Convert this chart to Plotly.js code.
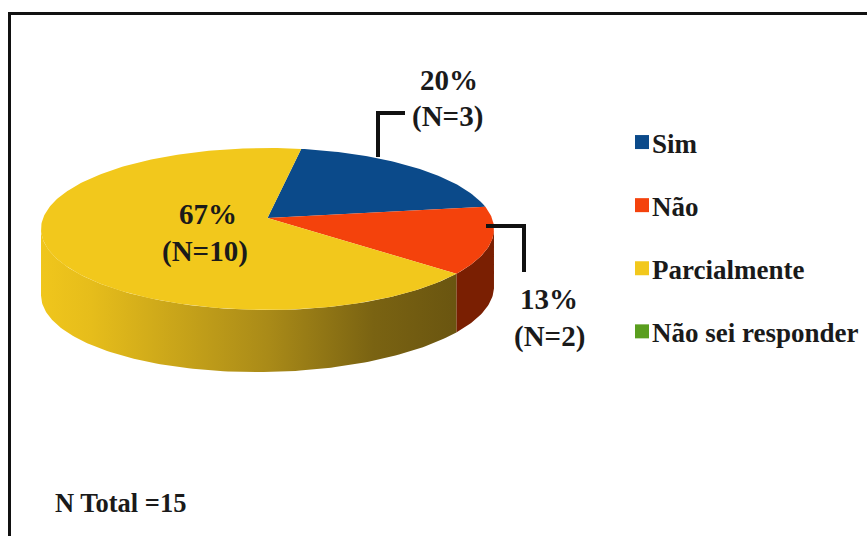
<!DOCTYPE html>
<html>
<head>
<meta charset="utf-8">
<script src="https://cdn.plot.ly/plotly-3.0.1.min.js"></script>
<style>html,body{margin:0;padding:0;background:#fff;overflow:hidden}</style>
</head>
<body>
<div id="chart" style="width:867px;height:536px"></div>
<script>
const categories = ["Sim", "Não", "Parcialmente", "Não sei responder"];
const counts = [3, 2, 10, 0];
const total = 15;
const sliceColors = ["#0b4a8a", "#f4420c", "#f2c81c", "#5a9e1e"];
const wallColors = [null, "#7a1f02", null, null];
const serif = "'Liberation Serif','Times New Roman',serif";
const ink = "#1a1a1a";

// Pie geometry on the page-sized axes
const cx = 267.5, cy = 229, rx = 226.5, ry = 81, tilt = 0.136, startDeg = 80.2;
const rad = d => d * Math.PI / 180;
// True angle on the disc -> point on the rim, seen in perspective
function rim(deg) {
  const c = Math.cos(rad(deg)), s = Math.sin(rad(deg)), d = 1 + tilt * s;
  return [Math.sqrt(1 - tilt * tilt) * c / d, (s + tilt) / d];
}
const toX = p => cx + rx * p[0];
const toY = p => cy - ry * p[1];
const depth = p => 62 - 4 * p[0];
const apex = [0, tilt];
function range(a, b) { const n = Math.ceil(Math.abs(a - b)) + 1, o = []; for (let i = 0; i < n; i++) o.push(a + (b - a) * i / (n - 1)); return o; }

// Slice boundaries
const bounds = [startDeg];
counts.forEach(v => bounds.push(bounds[bounds.length - 1] - 360 * v / total));

const traces = [];
// Visible side wall of a slice: the part of it in the lower half of the rim
function wall(a, b, style) {
  const lower = range(a, b).map(rim).filter(p => p[1] <= 0);
  if (lower.length < 2) return;
  const x = lower.map(toX).concat(lower.slice().reverse().map(toX));
  const y = lower.map(toY).concat(lower.slice().reverse().map(p => toY(p) + depth(p)));
  traces.push(Object.assign({ type: "scatter", mode: "lines", x, y, fill: "toself", line: { width: 0 }, showlegend: false, hoverinfo: "skip" }, style));
}
wall(bounds[1], bounds[2], { fillcolor: wallColors[1] });
wall(bounds[2], bounds[3], {
  fillcolor: "#c9a21b",
  fillgradient: { type: "horizontal", colorscale: [[0, "#f0c61c"], [0.12, "#e6bd1b"], [0.55, "#a98a18"], [0.8, "#7a6312"], [1, "#6a5510"]] }
});
// Top faces
categories.forEach((name, i) => {
  if (!counts[i]) return;
  const pts = range(bounds[i], bounds[i + 1]).map(rim);
  traces.push({
    type: "scatter", mode: "lines",
    x: [toX(apex)].concat(pts.map(toX), [toX(apex)]),
    y: [toY(apex)].concat(pts.map(toY), [toY(apex)]),
    fill: "toself", fillcolor: sliceColors[i], line: { width: 0 }, showlegend: false, hoverinfo: "skip"
  });
});
// Legend entries
categories.forEach((name, i) => {
  traces.push({
    type: "scatter", mode: "markers", name, x: [null], y: [null], legendgroup: name,
    marker: { symbol: "square", size: 14, color: sliceColors[i] }, hoverinfo: "skip"
  });
});

function label(text, x, y, size) {
  return { text: "<b>" + text + "</b>", x, y, xref: "x", yref: "y", showarrow: false, font: { family: serif, size, color: ink } };
}
const pct = i => Math.round(100 * counts[i] / total) + "%";
const nTxt = i => "(N=" + counts[i] + ")";
const annotations = [
  label(pct(0), 449, 80, 29), label(nTxt(0), 447, 116, 29),
  label(pct(1), 549, 299, 29), label(nTxt(1), 549, 336, 29),
  label(pct(2), 208, 214, 29), label(nTxt(2), 205, 251, 29),
  label("N Total =" + total, 120, 503, 26.5)
];
const frame = { type: "path", path: "M9.5,540 L9.5,13.5 L870,13.5", line: { color: "#111", width: 3 } };
const leader = p => ({ type: "path", path: p, line: { color: "#111", width: 4 } });

Plotly.newPlot("chart", traces, {
  width: 867, height: 536,
  margin: { l: 0, r: 0, t: 0, b: 0, pad: 0 },
  paper_bgcolor: "#fff", plot_bgcolor: "#fff",
  xaxis: { range: [0, 867], visible: false, fixedrange: true },
  yaxis: { range: [536, 0], visible: false, fixedrange: true },
  shapes: [frame, leader("M378,157 L378,113 L405,113"), leader("M486,226 L524,226 L524,272")],
  annotations,
  showlegend: true,
  legend: {
    x: 612 / 867, xanchor: "left", y: 1 - 118 / 536, yanchor: "top",
    bgcolor: "rgba(0,0,0,0)", borderwidth: 0,
    traceorder: "grouped", tracegroupgap: 25, itemclick: false, itemdoubleclick: false,
    font: { family: serif, size: 27, color: ink, weight: "bold" }
  }
}, { displayModeBar: false, staticPlot: true }).then(gd => {
  // Tuck the swatches next to their text, as in the reference
  gd.querySelectorAll(".legend .legendpoints .scatterpts").forEach(el => {
    el.parentNode.setAttribute("transform", "translate(10,0)");
  });
});
</script>
</body>
</html>
